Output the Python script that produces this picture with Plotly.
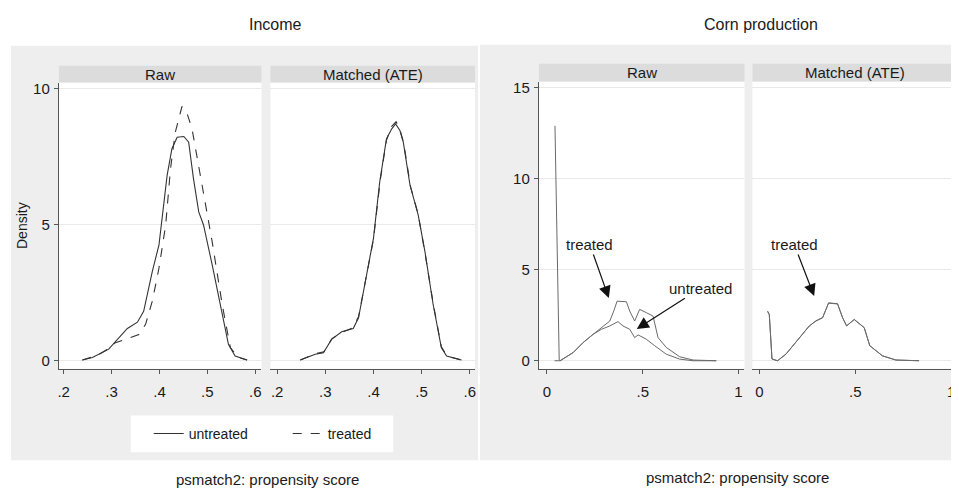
import plotly.graph_objects as go

# ---------------- data ----------------
inc_raw_untr_x = [0.239, 0.26, 0.294, 0.312, 0.333, 0.354, 0.367, 0.385, 0.399, 0.416, 0.426, 0.437, 0.451, 0.461, 0.471, 0.482, 0.492, 0.510, 0.527, 0.544, 0.558, 0.583]
inc_raw_untr_y = [0.03, 0.12, 0.43, 0.79, 1.19, 1.42, 1.82, 3.28, 4.26, 6.81, 7.79, 8.21, 8.24, 8.03, 6.69, 5.47, 4.99, 3.53, 2.07, 0.61, 0.18, 0.03]

inc_raw_trt_x = [0.239, 0.27, 0.294, 0.308, 0.329, 0.357, 0.371, 0.385, 0.399, 0.413, 0.423, 0.433, 0.447, 0.456, 0.468, 0.489, 0.499, 0.510, 0.531, 0.548, 0.565, 0.583]
inc_raw_trt_y = [0.03, 0.2, 0.45, 0.67, 0.79, 0.97, 1.34, 2.19, 3.41, 4.99, 7.05, 8.39, 9.34, 9.18, 8.52, 6.45, 5.47, 4.38, 2.07, 0.49, 0.12, 0.03]

inc_mat_untr_x = [0.248, 0.279, 0.296, 0.313, 0.334, 0.358, 0.369, 0.382, 0.400, 0.413, 0.427, 0.438, 0.446, 0.455, 0.462, 0.476, 0.493, 0.507, 0.524, 0.541, 0.552, 0.583]
inc_mat_untr_y = [0.03, 0.24, 0.30, 0.79, 1.07, 1.19, 1.58, 2.80, 4.50, 6.57, 8.15, 8.52, 8.70, 8.46, 8.03, 6.45, 5.35, 4.01, 2.07, 0.49, 0.18, 0.03]

inc_mat_trt_x = [0.248, 0.279, 0.297, 0.314, 0.335, 0.357, 0.369, 0.383, 0.400, 0.414, 0.427, 0.437, 0.447, 0.455, 0.463, 0.477, 0.493, 0.507, 0.525, 0.541, 0.553, 0.583]
inc_mat_trt_y = [0.03, 0.26, 0.33, 0.82, 1.05, 1.21, 1.62, 2.86, 4.46, 6.62, 8.10, 8.60, 8.78, 8.50, 7.98, 6.40, 5.38, 3.96, 2.02, 0.52, 0.17, 0.03]

corn_raw_trt_x = [0.040, 0.068, 0.137, 0.189, 0.241, 0.285, 0.328, 0.349, 0.366, 0.415, 0.432, 0.458, 0.484, 0.519, 0.554, 0.580, 0.623, 0.693, 0.762, 0.884]
corn_raw_trt_y = [0.0, 0.0, 0.45, 1.0, 1.45, 1.82, 2.18, 2.73, 3.27, 3.24, 2.73, 2.18, 2.82, 2.64, 2.45, 1.27, 0.73, 0.22, 0.04, 0.0]

corn_raw_untr_x = [0.042, 0.058, 0.064, 0.070, 0.137, 0.189, 0.241, 0.285, 0.328, 0.371, 0.397, 0.432, 0.458, 0.476, 0.519, 0.563, 0.623, 0.693, 0.762, 0.884]
corn_raw_untr_y = [12.9, 2.0, 0.05, 0.0, 0.45, 1.0, 1.45, 1.73, 1.91, 2.15, 1.91, 1.73, 1.27, 1.42, 1.18, 0.82, 0.36, 0.09, 0.0, 0.0]

corn_mat_x = [0.043, 0.052, 0.066, 0.095, 0.139, 0.208, 0.260, 0.295, 0.330, 0.361, 0.408, 0.434, 0.455, 0.495, 0.547, 0.576, 0.642, 0.712, 0.833]
corn_mat_untr_y = [2.73, 2.55, 0.09, 0.0, 0.36, 1.27, 1.91, 2.18, 2.36, 3.18, 3.13, 2.36, 1.91, 2.27, 1.82, 0.82, 0.27, 0.04, 0.0]
corn_mat_trt_y = [2.70, 2.52, 0.10, 0.0, 0.37, 1.28, 1.90, 2.19, 2.37, 3.16, 3.12, 2.37, 1.92, 2.26, 1.81, 0.83, 0.27, 0.04, 0.0]

inc_xticks = [0.2, 0.3, 0.4, 0.5, 0.6]
inc_xticklabels = [".2", ".3", ".4", ".5", ".6"]
inc_yticks = [0, 5, 10]
corn_xticks = [0, 0.5, 1]
corn_xticklabels = ["0", ".5", "1"]
corn_yticks = [0, 5, 10, 15]

panel_titles = ["Raw", "Matched (ATE)"]
fig_titles = ["Income", "Corn production"]
xtitle = "psmatch2: propensity score"

# ---------------- layout helpers ----------------
# the page body has an 8px margin, so positions (given in window pixels) are shifted
OFF = 8
W, H = 951, 483
def fx(p): return (p - OFF) / W
def fy(p): return 1 - (p - OFF) / H

FONT = "Liberation Sans, Arial, sans-serif"
TXT = "#1a1a1a"
AX = "#555555"

fig = go.Figure()
inc_line = dict(color="#333333", width=1.1)
corn_line = dict(color="#6a6a6a", width=1.0)

fig.add_trace(go.Scatter(x=inc_raw_untr_x, y=inc_raw_untr_y, xaxis="x", yaxis="y", mode="lines",
                         line=dict(**inc_line), name="untreated", legendgroup="u", showlegend=True))
fig.add_trace(go.Scatter(x=inc_raw_trt_x, y=inc_raw_trt_y, xaxis="x", yaxis="y", mode="lines",
                         line=dict(**inc_line, dash="dash"), name="treated", legendgroup="t", showlegend=True))
fig.add_trace(go.Scatter(x=inc_mat_untr_x, y=inc_mat_untr_y, xaxis="x2", yaxis="y2", mode="lines",
                         line=dict(**inc_line), name="untreated", legendgroup="u", showlegend=False))
fig.add_trace(go.Scatter(x=inc_mat_trt_x, y=inc_mat_trt_y, xaxis="x2", yaxis="y2", mode="lines",
                         line=dict(**inc_line, dash="dash"), name="treated", legendgroup="t", showlegend=False))
fig.add_trace(go.Scatter(x=corn_raw_untr_x, y=corn_raw_untr_y, xaxis="x3", yaxis="y3", mode="lines",
                         line=corn_line, name="untreated", showlegend=False))
fig.add_trace(go.Scatter(x=corn_raw_trt_x, y=corn_raw_trt_y, xaxis="x3", yaxis="y3", mode="lines",
                         line=corn_line, name="treated", showlegend=False))
fig.add_trace(go.Scatter(x=corn_mat_x, y=corn_mat_untr_y, xaxis="x4", yaxis="y4", mode="lines",
                         line=corn_line, name="untreated", showlegend=False))
fig.add_trace(go.Scatter(x=corn_mat_x, y=corn_mat_trt_y, xaxis="x4", yaxis="y4", mode="lines",
                         line=corn_line, name="treated", showlegend=False))

tickfont = dict(family=FONT, size=15, color=TXT)
def xax(domain, rng, tv, tt, anchor):
    return dict(domain=domain, range=rng, tickvals=tv, ticktext=tt, anchor=anchor,
                showline=True, linecolor=AX, linewidth=1.2, ticks="outside", ticklen=4,
                tickcolor=AX, showgrid=False, zeroline=False, tickfont=tickfont,
                ticklabelstandoff=5, ticklabeloverflow="allow", fixedrange=True)
def yax(domain, rng, tv, anchor, show):
    return dict(domain=domain, range=rng, tickvals=tv, anchor=anchor,
                showline=show, linecolor=AX, linewidth=1.2, ticks="outside" if show else "",
                ticklen=4, tickcolor=AX, showticklabels=show, showgrid=True,
                gridcolor="#e9e9e9", gridwidth=1, zeroline=False, tickfont=tickfont,
                ticklabelstandoff=1, fixedrange=True)

inc_ydom = [fy(368), fy(80)]
corn_ydom = [fy(368), fy(79)]
inc_xdoms = [[fx(58), fx(261)], [fx(270), fx(475)]]
corn_xdoms = [[fx(539), fx(745)], [fx(753), 1.0]]

layout = dict(
    width=W, height=H, margin=dict(l=0, r=0, t=0, b=0),
    paper_bgcolor="white", plot_bgcolor="white",
    font=dict(family=FONT, color=TXT),
    xaxis=xax(inc_xdoms[0], [0.19, 0.613], inc_xticks, inc_xticklabels, "y"),
    xaxis2=xax(inc_xdoms[1], [0.186, 0.611], inc_xticks, inc_xticklabels, "y2"),
    xaxis3=xax(corn_xdoms[0], [-0.042, 1.031], corn_xticks, corn_xticklabels, "y3"),
    xaxis4=xax(corn_xdoms[1], [-0.036, 1.036], corn_xticks, corn_xticklabels, "y4"),
    yaxis=yax(inc_ydom, [-0.29, 10.22], inc_yticks, "x", True),
    yaxis2=yax(inc_ydom, [-0.29, 10.22], inc_yticks, "x2", False),
    yaxis3=yax(corn_ydom, [-0.44, 15.33], corn_yticks, "x3", True),
    yaxis4=yax(corn_ydom, [-0.44, 15.33], corn_yticks, "x4", False),
    legend=dict(orientation="h", x=fx(148), y=fy(433.5), xanchor="left", yanchor="middle",
                bgcolor="rgba(0,0,0,0)", borderwidth=0, font=dict(family=FONT, size=14, color=TXT),
                entrywidth=94, entrywidthmode="pixels", itemclick=False, itemdoubleclick=False),
)
layout["yaxis"]["title"] = dict(text="Density", font=dict(family=FONT, size=14, color=TXT), standoff=2)
fig.update_layout(**layout)

shapes = [
    dict(type="rect", xref="paper", yref="paper", x0=fx(10), x1=fx(478), y0=fy(460), y1=fy(43),
         fillcolor="#eeeeee", line_width=0, layer="below"),
    dict(type="rect", xref="paper", yref="paper", x0=fx(480), x1=1.0, y0=fy(460), y1=fy(42),
         fillcolor="#eeeeee", line_width=0, layer="below"),
    # legend box
    dict(type="rect", xref="paper", yref="paper", x0=fx(130), x1=fx(393), y0=fy(452), y1=fy(415),
         fillcolor="white", line_width=0, layer="below"),
]
# white plotting regions (paper shapes are drawn above the plot background)
for d in inc_xdoms:
    shapes.append(dict(type="rect", xref="paper", yref="paper", x0=d[0], x1=d[1], y0=inc_ydom[0], y1=inc_ydom[1],
                       fillcolor="white", line_width=0, layer="below"))
for d in corn_xdoms:
    shapes.append(dict(type="rect", xref="paper", yref="paper", x0=d[0], x1=d[1], y0=corn_ydom[0], y1=corn_ydom[1],
                       fillcolor="white", line_width=0, layer="below"))

strips = [(58, 261, 63, 80), (270, 475, 63, 80), (539, 745, 61, 79), (753, 959, 61, 79)]
annotations = []
for i, (a, b, t, btm) in enumerate(strips):
    shapes.append(dict(type="rect", xref="paper", yref="paper", x0=fx(a), x1=min(fx(b), 1.0), y0=fy(btm), y1=fy(t),
                       fillcolor="#dcdcdc", line_width=0, layer="below"))
    annotations.append(dict(text=panel_titles[i % 2], xref="paper", yref="paper", x=fx((a + b) / 2),
                            y=fy((t + btm) / 2), xanchor="center", yanchor="middle", showarrow=False,
                            font=dict(family=FONT, size=15, color=TXT)))

annotations += [
    dict(text=fig_titles[0], xref="paper", yref="paper", x=fx(275), y=fy(22), xanchor="center",
         yanchor="middle", showarrow=False, font=dict(family=FONT, size=16, color=TXT)),
    dict(text=fig_titles[1], xref="paper", yref="paper", x=fx(762), y=fy(22), xanchor="center",
         yanchor="middle", showarrow=False, font=dict(family=FONT, size=16, color=TXT)),
    dict(text=xtitle, xref="paper", yref="paper", x=fx(267), y=fy(479), xanchor="center",
         yanchor="middle", showarrow=False, font=dict(family=FONT, size=15, color=TXT)),
    dict(text=xtitle, xref="paper", yref="paper", x=fx(738), y=fy(477), xanchor="center",
         yanchor="middle", showarrow=False, font=dict(family=FONT, size=15, color=TXT)),
]
arrow = dict(showarrow=True, arrowhead=2, arrowsize=2.0, arrowwidth=1.2, arrowcolor="#111111",
             font=dict(family=FONT, size=15, color=TXT))
annotations += [
    dict(text="treated", xref="x3", yref="y3", axref="x3", ayref="y3", x=0.323, y=3.44, ax=0.224, ay=6.38, **arrow),
    dict(text="untreated", xref="x3", yref="y3", axref="x3", ayref="y3", x=0.469, y=1.75, ax=0.802, ay=3.98, **arrow),
    dict(text="treated", xref="x4", yref="y4", axref="x4", ayref="y4", x=0.286, y=3.55, ax=0.182, ay=6.38, **arrow),
]
fig.update_layout(shapes=shapes, annotations=annotations)

fig.write_html("out.html")
